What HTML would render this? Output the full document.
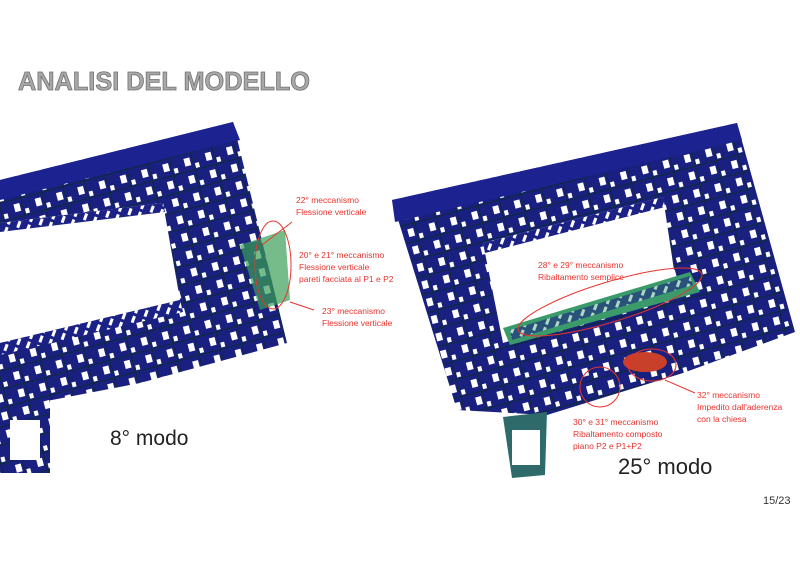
<!DOCTYPE html>
<html><head><meta charset="utf-8"><style>
html,body{margin:0;padding:0;background:#fff;width:800px;height:565px;overflow:hidden}
svg{display:block}
.t{font-family:"Liberation Sans",sans-serif}
.r{fill:#e8332e;font-family:"Liberation Sans",sans-serif;font-size:8.5px}
</style></head><body>
<svg width="800" height="565" viewBox="0 0 800 565">
<defs>
<pattern id="h" width="10" height="10" patternUnits="userSpaceOnUse" patternTransform="rotate(20)">
<rect width="10" height="10" fill="#1c2285"/>
<rect x="3" y="1" width="3" height="7" fill="#fff"/>
</pattern>
<pattern id="g" width="22" height="18" patternUnits="userSpaceOnUse" patternTransform="rotate(-15)">
<rect width="22" height="18" fill="#1a2080"/>
<rect x="4" y="3" width="6" height="8" fill="#fff"/>
<rect x="14" y="10" width="4" height="5" fill="#fff"/>
<rect x="0" y="16" width="22" height="1" fill="#0d2a3a"/>
<rect x="12" y="0" width="1" height="18" fill="#0d2a3a"/>
</pattern>
</defs>
<text x="18" y="90" class="t" font-size="26" font-weight="bold" fill="#a8a8a8" stroke="#707070" stroke-width="0.8" textLength="292" lengthAdjust="spacingAndGlyphs">ANALISI DEL MODELLO</text>

<!-- left model -->
<polygon points="0,180 233,122 287,343 140,383 0,410" fill="url(#g)"/>
<polygon points="0,180 233,122 240,140 0,200" fill="#1c2290"/>
<polygon points="0,223 163,203 180,300 0,343" fill="#fff"/>
<polygon points="0,223 163,203 165,212 0,232" fill="url(#h)"/>
<polygon points="0,343 180,300 183,312 0,355" fill="url(#h)"/>
<polygon points="0,400 50,398 50,473 0,473" fill="url(#g)"/>
<polygon points="10,420 40,420 40,460 10,460" fill="#fff"/>
<polygon points="240,245 285,230 290,300 260,310" fill="#3aa058" opacity="0.7"/>
<ellipse cx="273" cy="265" rx="18" ry="44" fill="none" stroke="#e8332e" stroke-width="1"/>
<line x1="262" y1="245" x2="292" y2="222" stroke="#e8332e"/>
<line x1="290" y1="302" x2="314" y2="310" stroke="#e8332e"/>
<text x="296" y="203" class="r">22° meccanismo</text>
<text x="296" y="215" class="r">Flessione verticale</text>
<text x="299" y="258" class="r">20° e 21° meccanismo</text>
<text x="299" y="270" class="r">Flessione verticale</text>
<text x="299" y="282" class="r">pareti facciata al P1 e P2</text>
<text x="322" y="314" class="r">23° meccanismo</text>
<text x="322" y="326" class="r">Flessione verticale</text>
<text x="110" y="445" class="t" font-size="21" fill="#222">8° modo</text>

<!-- right model -->
<polygon points="392,200 737,123 795,332 683,373 547,415 457,410" fill="url(#g)"/>
<polygon points="392,200 737,123 742,140 395,222" fill="#1c2290"/>
<polygon points="483,243 663,197 677,290 503,343" fill="#fff"/>
<polygon points="483,243 663,197 665,207 485,253" fill="url(#h)"/>
<polygon points="503,328 690,272 700,292 510,345" fill="#3a9a6a"/>
<polygon points="510,330 690,276 693,285 512,340" fill="url(#h)" opacity="0.6"/>
<polygon points="503,417 547,412 545,475 512,478" fill="#2e6a6a"/>
<rect x="512" y="430" width="28" height="35" fill="#fff"/>
<ellipse cx="645" cy="362" rx="22" ry="10" fill="#c8402a"/>
<ellipse cx="610" cy="302" rx="96" ry="20" transform="rotate(-17 610 302)" fill="none" stroke="#e8332e" stroke-width="1"/>
<circle cx="600" cy="387" r="20" fill="none" stroke="#e8332e" stroke-width="1"/>
<ellipse cx="652" cy="365" rx="24" ry="16" fill="none" stroke="#e8332e" stroke-width="1"/>
<line x1="665" y1="380" x2="695" y2="393" stroke="#e8332e"/>
<text x="538" y="268" class="r">28° e 29° meccanismo</text>
<text x="538" y="280" class="r">Ribaltamento semplice</text>
<text x="573" y="425" class="r">30° e 31° meccanismo</text>
<text x="573" y="437" class="r">Ribaltamento composto</text>
<text x="573" y="449" class="r">piano P2 e P1+P2</text>
<text x="697" y="398" class="r">32° meccanismo</text>
<text x="697" y="410" class="r">Impedito dall'aderenza</text>
<text x="697" y="422" class="r">con la chiesa</text>
<text x="618" y="474" class="t" font-size="22" fill="#222">25° modo</text>
<text x="763" y="504" class="t" font-size="11" fill="#333">15/23</text>
</svg>
</body></html>
